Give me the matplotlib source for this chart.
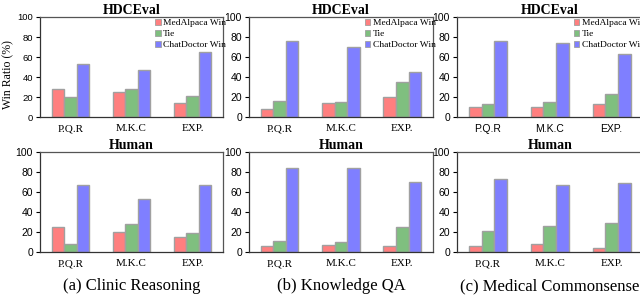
import matplotlib
matplotlib.use("Agg")
import matplotlib.pyplot as plt
import numpy as np
from matplotlib.patches import Patch

categories = ["P.Q.R", "M.K.C", "EXP."]
series_names = ["MedAlpaca Win", "Tie", "ChatDoctor Win"]
colors = ["#FF7F7F", "#7FBF7F", "#7F7FFF"]

# HDCEval row
clinic_hdce_medalpaca = [28, 25.5, 14.4]
clinic_hdce_tie = [19.8, 27.9, 21.1]
clinic_hdce_chatdoctor = [53, 47.3, 65.1]
know_hdce_medalpaca = [8.4, 14.1, 20.5]
know_hdce_tie = [16.4, 15.4, 34.9]
know_hdce_chatdoctor = [76.2, 70.5, 45.3]
common_hdce_medalpaca = [10.4, 10.4, 13.4]
common_hdce_tie = [13.4, 15.4, 23.5]
common_hdce_chatdoctor = [75.8, 74.2, 62.8]

# Human row
clinic_human_medalpaca = [25.3, 19.9, 15.2]
clinic_human_tie = [8.4, 28.3, 19.2]
clinic_human_chatdoctor = [67, 53.2, 67]
know_human_medalpaca = [6.4, 7.4, 5.7]
know_human_tie = [11.4, 10.1, 25.3]
know_human_chatdoctor = [83.8, 83.8, 70.4]
common_human_medalpaca = [6.4, 8.0, 4.0]
common_human_tie = [21.5, 26.3, 28.6]
common_human_chatdoctor = [73.4, 67.3, 68.7]

captions = ["(a) Clinic Reasoning", "(b) Knowledge QA", "(c) Medical Commonsense"]
yticks = [0, 20, 40, 60, 80, 100]

panels = [
    [(clinic_hdce_medalpaca, clinic_hdce_tie, clinic_hdce_chatdoctor),
     (know_hdce_medalpaca, know_hdce_tie, know_hdce_chatdoctor),
     (common_hdce_medalpaca, common_hdce_tie, common_hdce_chatdoctor)],
    [(clinic_human_medalpaca, clinic_human_tie, clinic_human_chatdoctor),
     (know_human_medalpaca, know_human_tie, know_human_chatdoctor),
     (common_human_medalpaca, common_human_tie, common_human_chatdoctor)],
]
row_titles = ["HDCEval", "Human"]

serif = ["Liberation Serif", "DejaVu Serif"]
sans = ["Liberation Sans", "DejaVu Sans"]

fig = plt.figure(figsize=(6.4, 2.98), dpi=100)
lefts = [0.0625, 0.389, 0.714]
widths = [0.286, 0.2875, 0.29]
bottoms = [0.607, 0.154]
height = 0.336

x = np.arange(len(categories))
bw = 0.205
for r in range(2):
    for c in range(3):
        ax = fig.add_axes([lefts[c], bottoms[r], widths[c], height])
        vals = panels[r][c]
        for i, (v, col) in enumerate(zip(vals, colors)):
            ax.bar(x + (i - 1) * bw, v, bw, color=col, edgecolor="#A0A0A0",
                   linewidth=1.0, zorder=2)
        ax.set_xlim(-0.5, 2.5)
        ax.set_ylim(0, 100)
        ax.set_yticks(yticks)
        ax.set_xticks(x)
        xfam = sans if (r == 0 and c == 2) else serif
        xsize = 7.5 if (r == 0 and c == 2) else 8
        ax.set_xticklabels(categories, fontsize=xsize, family=xfam)
        ysize = 6.8 if (r == 0 and c == 0) else 7.5
        ax.set_yticklabels([str(t) for t in yticks], fontsize=ysize, family=sans)
        ax.tick_params(axis="x", length=0, pad=5)
        ax.tick_params(axis="y", length=3, width=0.8, pad=2)
        for s in ["left", "bottom"]:
            ax.spines[s].set_color("#333333")
            ax.spines[s].set_linewidth(0.9)
        for s in ["top", "right"]:
            ax.spines[s].set_color("#555555")
            ax.spines[s].set_linewidth(0.9)
        ax.set_title(row_titles[r], fontsize=10, fontweight="bold", family=serif, pad=2)
        if r == 0:
            handles = [Patch(facecolor=col, edgecolor="#A0A0A0", linewidth=0.6)
                       for col in colors]
            ax.legend(handles, series_names, loc="upper left",
                      bbox_to_anchor=(0.6, 1.035), frameon=False,
                      prop={"family": serif, "size": 6.8}, handlelength=0.55,
                      handleheight=0.55, handletextpad=0.25, labelspacing=0.3,
                      borderaxespad=0.2)
        if r == 0 and c == 0:
            ax.set_ylabel("Win Ratio (%)", fontsize=8.5, family=serif, labelpad=3)
            ax.yaxis.set_label_coords(-0.14, 0.42)
        if r == 1:
            ax.text(0.5, -0.34, captions[c], transform=ax.transAxes, ha="center",
                    va="center", fontsize=12, family=serif)

fig.savefig("out.png", dpi=100)
